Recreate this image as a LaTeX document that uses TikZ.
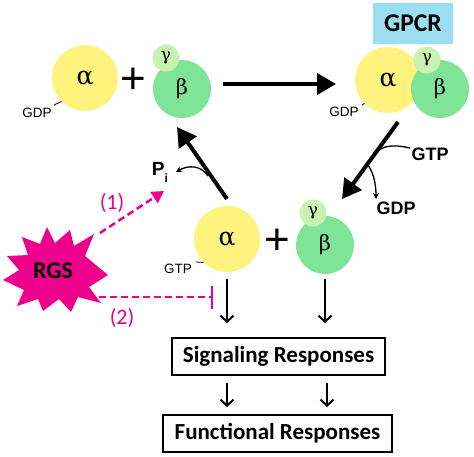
\documentclass[tikz,border=0pt]{standalone}
\usepackage{fontspec}
\setmainfont{Carlito}
\newfontfamily\arialf{Liberation Sans}
\newfontfamily\grk{DejaVu Serif}
\usetikzlibrary{arrows.meta}
\definecolor{ayel}{RGB}{255,243,125}
\definecolor{bgrn}{RGB}{128,228,152}
\definecolor{ggrn}{RGB}{200,241,178}
\definecolor{gpcrb}{RGB}{155,222,242}
\definecolor{rgsm}{RGB}{236,0,140}
\begin{document}
\begin{tikzpicture}[x=1pt,y=-1pt,
 sub/.style={circle,inner sep=0pt,draw=none},
 alph/.style={sub,fill=ayel,minimum size=66pt,font=\grk\fontsize{25}{25}\selectfont},
 bet/.style={sub,fill=bgrn,minimum size=58pt,font=\grk\fontsize{21}{21}\selectfont},
 gam/.style={sub,fill=ggrn,minimum size=27pt,font=\grk\fontsize{17}{17}\selectfont},
 lbl/.style={font=\arialf\fontsize{13.5}{13.5}\selectfont,inner sep=0pt},
 blbl/.style={font=\arialf\bfseries\fontsize{18}{18}\selectfont,inner sep=0pt},
 plussign/.style={font=\arialf\fontsize{44}{44}\selectfont,inner sep=0pt},
 bigarrow/.style={line width=4pt,-{Triangle[length=19pt,width=21pt]}},
 thinarrow/.style={line width=1.3pt,-{Stealth[length=6pt,width=6pt]}},
 downarrow/.style={line width=2pt,-{Straight Barb[length=6pt,width=13pt]}},
 respbox/.style={draw,line width=2pt,inner sep=0pt,font=\bfseries\fontsize{23}{23}\selectfont},
 rgsline/.style={draw=rgsm,line width=2.5pt,dash pattern=on 7pt off 4pt},
 numlbl/.style={text=rgsm,inner sep=0pt,font=\fontsize{22}{22}\selectfont}
]
\useasboundingbox (0,0) rectangle (474,456);

% top-left inactive G protein
\node[alph] (a1) at (85,78) {α};
\node[bet] (b1) at (182,89) {β};
\node[gam] (g1) at (166,58) {γ};
\node[plussign] (p1) at (133,81) {+};
\node[lbl] (gdp1) at (37,113) {GDP};
\draw[line width=0.8pt] (54,105) -- (a1.225);

% GPCR complex
\node[fill=gpcrb,minimum width=80pt,minimum height=41pt,inner sep=0pt,font=\bfseries\fontsize{25.5}{25.5}\selectfont] (gpcr) at (413,23.5) {GPCR};
\node[alph] (a2) at (388,80) {α};
\node[bet] (b2) at (440,89) {β};
\node[gam] (g2) at (427,60) {γ};
\node[lbl] (gdp2) at (344,112) {GDP};
\draw[line width=0.8pt] (362,105) -- (a2.225);

% active state
\node[alph] (a3) at (227,239) {α};
\node[bet] (b3) at (325,245) {β};
\node[gam] (g3) at (313,213) {γ};
\node[plussign] (p2) at (277,242) {+};
\node[lbl] (gtp3) at (178,268.5) {GTP};
\draw[line width=0.8pt] (196,262) -- (a3.225);

% labels
\node[blbl] (gtpb) at (430,154.5) {GTP};
\node[blbl] (gdpb) at (396,208.5) {GDP};
\node[blbl,anchor=base,font=\arialf\bfseries\fontsize{19}{19}\selectfont] (pi) at (160,175) {P\raisebox{-7pt}{\fontsize{12}{12}\selectfont i}};

% big arrows
\coordinate (t1s) at (223,84);
\coordinate (t1e) at (336,84);
\draw[bigarrow] (t1s) -- (t1e);
\coordinate (r1s) at (398,122);
\coordinate (r1e) at (342,199);
\draw[bigarrow] (r1s) -- (r1e);
\coordinate (l1s) at (227,199);
\coordinate (l1e) at (177,127);
\draw[bigarrow] (l1s) -- (l1e);

% side curves
\coordinate (gtpj) at (377,152);
\draw[line width=1.3pt] (410,148) .. controls (392,144) and (383,146) .. (gtpj);
\coordinate (gdpj) at (368,165);
\coordinate (gdpe) at (376,199);
\draw[thinarrow] (gdpj) .. controls (375,175) and (376,188) .. (gdpe);
\coordinate (pij) at (208,176);
\coordinate (pie) at (176,172);
\draw[thinarrow] (pij) .. controls (201,165) and (188,165) .. (pie);

% RGS star
\fill[rgsm] (47,227) -- (55,243) -- (70,230) -- (74,246) -- (94,234) -- (85,256)
 -- (108,275) -- (89,287) -- (101,303) -- (78,297) -- (71,312) -- (59,299)
 -- (43,311) -- (38,299) -- (17,306) -- (24,290) -- (3,280) -- (19,270)
 -- (7,256) -- (28,255) -- (22,237) -- (40,244) -- cycle;
\node[font=\bfseries\fontsize{24}{24}\selectfont,inner sep=0pt] (rgs) at (53,271) {RGS};

\coordinate (d1s) at (100,233);
\coordinate (d1e) at (164,191);
\draw[rgsline,-{Triangle[length=12pt,width=13pt]},rgsm] (d1s) -- (d1e);
\node[numlbl] (n1) at (112,203) {(1)};
\coordinate (d2s) at (88,297);
\coordinate (d2e) at (213,297);
\draw[rgsline,-{Bar[width=23pt,line width=2pt]}] (d2s) -- (d2e);
\node[numlbl] (n2) at (122,318) {(2)};

% responses
\node[respbox,minimum width=213pt,minimum height=37pt] (sig) at (278.5,356.5) {Signaling Responses};
\node[respbox,minimum width=229pt,minimum height=37pt] (fun) at (277.5,433.5) {Functional Responses};
\draw[downarrow,shorten >=14pt] ([yshift=-7pt]a3.south) -- (sig.north -| a3);
\draw[downarrow,shorten >=14pt] ([yshift=-5pt]b3.south) -- (sig.north -| b3);
\draw[downarrow,shorten <=7pt,shorten >=7pt] (sig.south -| a3) -- (fun.north -| a3);
\draw[downarrow,shorten <=7pt,shorten >=7pt] ([xshift=2pt]sig.south -| b3) -- ([xshift=2pt]fun.north -| b3);
\end{tikzpicture}
\end{document}
